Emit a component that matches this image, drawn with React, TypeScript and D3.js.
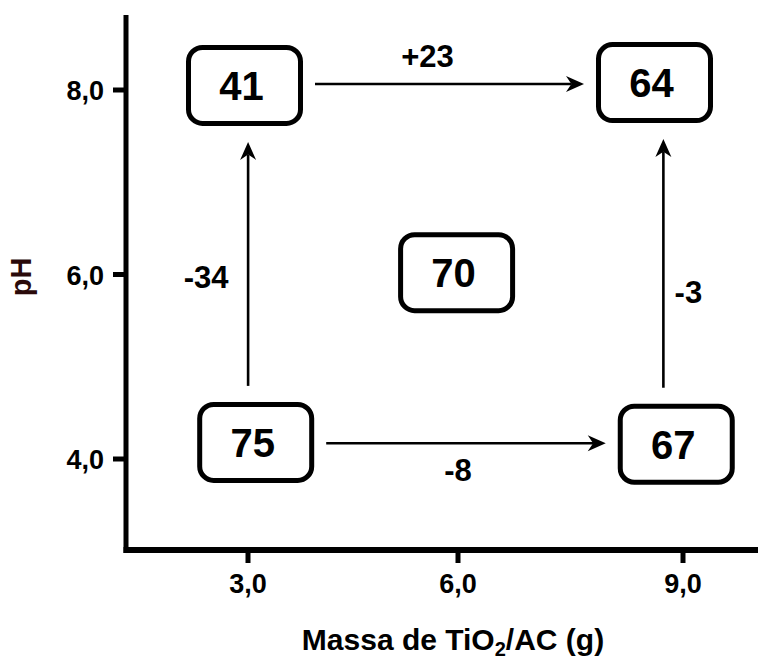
import React from 'react';
import * as d3 from 'd3';

// Design levels (axis ticks)
const xTicks = [3, 6, 9];
const yTicks = [4, 6, 8];
const xTickLabels = ['3,0', '6,0', '9,0'];
const yTickLabels = ['4,0', '6,0', '8,0'];

// Response boxes (value shown, position in data units)
const responses = [41, 64, 70, 75, 67];
const boxMass = [2.95, 8.62, 5.98, 3.11, 8.91];
const boxPH = [8.05, 8.08, 6.02, 4.18, 4.16];

// Effect arrows: from box index -> to box index, with effect label
const arrowFrom = [0, 3, 4, 3];
const arrowTo = [1, 0, 1, 4];
const arrowLabels = ['+23', '-34', '-3', '-8'];
const arrowSides = ['above', 'left', 'right', 'below'];

const xTitle = 'Massa de TiO';
const xTitleSub = '2';
const xTitleEnd = '/AC (g)';
const yTitle = 'pH';

const W = 758;
const H = 662;
const FONT = '"Liberation Sans", Arial, Helvetica, sans-serif';

export default function App() {
  const x = d3.scaleLinear().domain([3, 6, 9]).range([248, 458, 683]);
  const y = d3.scaleLinear().domain([4, 8]).range([459, 90]);

  const axisX = 126;
  const axisY = 550;
  const boxW = 112;
  const boxH = 76;
  const halfW = boxW / 2 + 2.5;
  const halfH = boxH / 2 + 2.5;

  const boxes = responses.map((v, i) => ({ v, cx: x(boxMass[i]), cy: y(boxPH[i]) }));

  const headL = 18;
  const headW = 8;

  const arrows = arrowFrom.map((f, i) => {
    const a = boxes[f];
    const b = boxes[arrowTo[i]];
    const horizontal = Math.abs(a.cy - b.cy) < Math.abs(a.cx - b.cx);
    let x1, y1, x2, y2;
    if (horizontal) {
      const yy = (a.cy + b.cy) / 2;
      const dir = Math.sign(b.cx - a.cx);
      x1 = a.cx + dir * (halfW + 12);
      x2 = b.cx - dir * (halfW + 12);
      y1 = yy;
      y2 = yy;
    } else {
      const xx = (a.cx + b.cx) / 2 - 2;
      const dir = Math.sign(b.cy - a.cy);
      y1 = a.cy + dir * (halfH + 16);
      y2 = b.cy - dir * (halfH + 16);
      x1 = xx;
      x2 = xx;
    }
    const len = Math.hypot(x2 - x1, y2 - y1);
    const ux = (x2 - x1) / len;
    const uy = (y2 - y1) / len;
    const px = -uy;
    const py = ux;
    const head = d3.path();
    head.moveTo(x2, y2);
    head.lineTo(x2 - ux * headL + px * headW, y2 - uy * headL + py * headW);
    head.lineTo(x2 - ux * headL * 0.7, y2 - uy * headL * 0.7);
    head.lineTo(x2 - ux * headL - px * headW, y2 - uy * headL - py * headW);
    head.closePath();
    const mx = (x1 + x2) / 2;
    const my = (y1 + y2) / 2;
    const side = arrowSides[i];
    let lx = mx;
    let ly = my;
    if (side === 'above') { lx = mx - 22; ly = y1 - 17; }
    if (side === 'below') { lx = mx - 8; ly = y1 + 38; }
    if (side === 'left') { lx = x1 - 42; ly = my + 24; }
    if (side === 'right') { lx = x1 + 25; ly = my + 40; }
    return { x1, y1, x2: x2 - ux * headL * 0.7, y2: y2 - uy * headL * 0.7, head: head.toString(), lx, ly, label: arrowLabels[i] };
  });

  return (
    <svg width={W} height={H} style={{ position: 'absolute', left: 0, top: 0, background: '#fff' }}
      fontFamily={FONT}>
      <rect x={0} y={0} width={W} height={H} fill="#fff" />
      {/* axes */}
      <line x1={axisX} y1={15} x2={axisX} y2={axisY + 3} stroke="#000" strokeWidth={5} />
      <line x1={axisX - 2.5} y1={axisY} x2={W} y2={axisY} stroke="#000" strokeWidth={6} />
      {yTicks.map((t, i) => (
        <g key={'yt' + i}>
          <line x1={axisX - 13} x2={axisX} y1={y(t)} y2={y(t)} stroke="#000" strokeWidth={5} />
          <text x={104} y={y(t) + 10} textAnchor="end" fontSize={27} fontWeight="bold" fill="#000">
            {yTickLabels[i]}
          </text>
        </g>
      ))}
      {xTicks.map((t, i) => (
        <g key={'xt' + i}>
          <line x1={x(t)} x2={x(t)} y1={axisY} y2={axisY + 13} stroke="#000" strokeWidth={5} />
          <text x={x(t)} y={593} textAnchor="middle" fontSize={27} fontWeight="bold" fill="#000">
            {xTickLabels[i]}
          </text>
        </g>
      ))}
      {/* axis titles */}
      <text x={453} y={650} textAnchor="middle" fontSize={30} fontWeight="bold" fill="#000">
        {xTitle}
        <tspan fontSize={20} dy={6}>{xTitleSub}</tspan>
        <tspan dy={-6}>{xTitleEnd}</tspan>
      </text>
      <text transform={`translate(31,277) rotate(-90)`} textAnchor="middle" fontSize={29} fontWeight="bold" fill="#2a0a0a">
        {yTitle}
      </text>
      {/* arrows */}
      {arrows.map((a, i) => (
        <g key={'ar' + i}>
          <line x1={a.x1} y1={a.y1} x2={a.x2} y2={a.y2} stroke="#000" strokeWidth={2.6} />
          <path d={a.head} fill="#000" />
          <text x={a.lx} y={a.ly} textAnchor="middle" fontSize={31} fontWeight="bold" fill="#000">
            {a.label}
          </text>
        </g>
      ))}
      {/* boxes */}
      {boxes.map((b, i) => (
        <g key={'bx' + i}>
          <rect x={b.cx - boxW / 2} y={b.cy - boxH / 2} width={boxW} height={boxH} rx={14} ry={14}
            fill="#fff" stroke="#000" strokeWidth={5} />
          <text x={b.cx - 3} y={b.cy + 14.5} textAnchor="middle" fontSize={40} fontWeight="bold" fill="#000">
            {b.v}
          </text>
        </g>
      ))}
    </svg>
  );
}
